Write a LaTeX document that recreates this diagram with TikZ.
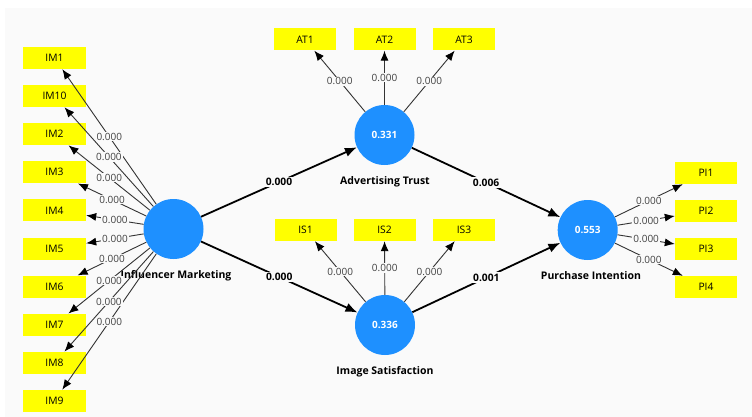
\documentclass[tikz,border=0pt]{standalone}
\usepackage{fontspec}
\setmainfont{Open Sans}
\usetikzlibrary{arrows.meta}
\definecolor{bgc}{HTML}{FAFAFA}
\definecolor{lvc}{HTML}{1E90FF}
\definecolor{indc}{HTML}{FFFF00}
\begin{document}
\begin{tikzpicture}[x=1pt,y=-1pt,
  indbox/.style={fill=indc, minimum width=63pt, minimum height=22pt, inner sep=0pt, font=\fontsize{10.3}{12}\selectfont},
  lvnode/.style={circle, fill=lvc, minimum size=60pt, inner sep=0pt, text=white, font=\bfseries\fontsize{10}{12}\selectfont},
  lvname/.style={font=\bfseries\fontsize{10.5}{12}\selectfont, inner sep=1pt},
  loadarr/.style={draw=black!80, line width=0.9pt, -{Latex[length=10pt,width=8pt,fill=black,color=black]}},
  patharr/.style={draw=black, line width=1.8pt, -{Latex[length=12pt,width=9.5pt]}},
  loadlbl/.style={fill=bgc, inner sep=1pt, text=black!75, font=\fontsize{10}{12}\selectfont},
  pathlbl/.style={fill=bgc, inner sep=1.5pt, font=\bfseries\fontsize{10.3}{12}\selectfont}]
\useasboundingbox (0,0) rectangle (752,417);
\fill[white] (0,0) rectangle (752,417);
\fill[bgc] (5,8) rectangle (752,417);

% latent variables
\node[lvnode] (imlv) at (173.5,229) {};
\node[lvnode] (atlv) at (384.5,135) {0.331};
\node[lvnode] (islv) at (385,325) {0.336};
\node[lvnode] (pilv) at (587.7,230) {0.553};

% names
\node[lvname] (imname) at (176,276) {Influencer Marketing};
\node[lvname] (atname) at (385,182) {Advertising Trust};
\node[lvname] (isname) at (385,372) {Image Satisfaction};
\node[lvname] (piname) at (591,276) {Purchase Intention};

% indicators
\foreach \n [count=\i from 0] in {1,10,2,3,4,5,6,7,8,9}
  \node[indbox] (IM\n) at (54.5,58+38.1*\i) {IM\n};
\node[indbox, minimum width=62pt] (AT1) at (305,39.5) {AT1};
\node[indbox, minimum width=62pt] (AT2) at (384.5,39.5) {AT2};
\node[indbox, minimum width=62pt] (AT3) at (464,39.5) {AT3};
\node[indbox, minimum width=62pt] (IS1) at (305.5,230) {IS1};
\node[indbox, minimum width=62pt] (IS2) at (384.5,230) {IS2};
\node[indbox, minimum width=62pt] (IS3) at (464,230) {IS3};
\node[indbox, minimum width=62pt] (PI1) at (706,173) {PI1};
\node[indbox, minimum width=62pt] (PI2) at (706,211) {PI2};
\node[indbox, minimum width=62pt] (PI3) at (706,249) {PI3};
\node[indbox, minimum width=62pt] (PI4) at (706,287) {PI4};

% loadings
\foreach \n in {1,10,2,3,4,5,6,7,8,9}
  \draw[loadarr] (imlv) -- coordinate[pos=0.5] (lIM\n) (IM\n);
\foreach \n in {1,2,3} {
  \draw[loadarr] (atlv) -- coordinate[pos=0.5] (lAT\n) (AT\n);
  \draw[loadarr] (islv) -- coordinate[pos=0.5] (lIS\n) (IS\n);
}
\foreach \n in {1,2,3,4}
  \draw[loadarr] (pilv) -- coordinate[pos=0.5] (lPI\n) (PI\n);

% structural paths
\draw[patharr] (imlv) -- coordinate[pos=0.5] (p1) (atlv);
\draw[patharr] (imlv) -- coordinate[pos=0.5] (p2) (islv);
\draw[patharr] (atlv) -- coordinate[pos=0.5] (p3) (pilv);
\draw[patharr] (islv) -- coordinate[pos=0.5] (p4) (pilv);

% labels
\foreach \c in {lIM1,lIM10,lIM2,lIM3,lIM4,lIM5,lIM6,lIM7,lIM8,lIM9,lAT1,lAT2,lAT3,lIS1,lIS2,lIS3,lPI1,lPI2,lPI3,lPI4}
  \node[loadlbl] at (\c) {0.000};
\node[pathlbl] at (p1) {0.000};
\node[pathlbl] at (p2) {0.000};
\node[pathlbl] at (p3) {0.006};
\node[pathlbl] at (p4) {0.001};
\end{tikzpicture}
\end{document}
